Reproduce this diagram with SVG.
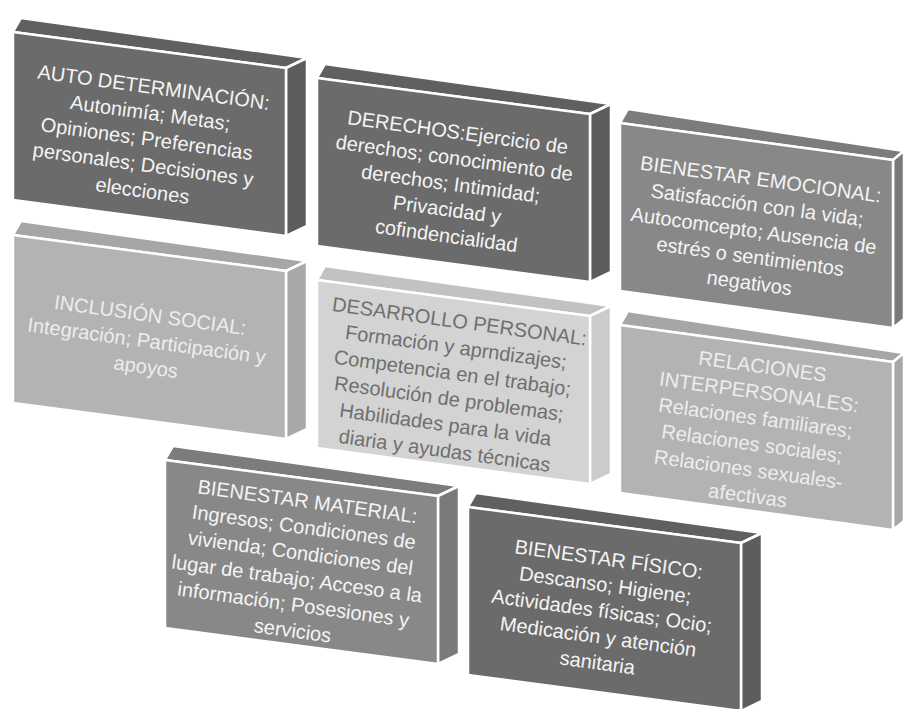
<svg xmlns="http://www.w3.org/2000/svg" width="904" height="709" viewBox="0 0 904 709">
<style>
  .box polygon { stroke: #ffffff; stroke-width: 2.5; stroke-linejoin: round; }
  .t { font-family: "Liberation Sans", Arial, sans-serif; font-size: 20px; text-anchor: middle; fill: #f4f4f4; }
  .dark .f { fill: #6b6b6b; } .dark .tp { fill: #606060; } .dark .s { fill: #5d5d5d; }
  .mid .f { fill: #888888; } .mid .tp { fill: #7c7c7c; } .mid .s { fill: #7a7a7a; }
  .light .f { fill: #b3b3b3; } .light .tp { fill: #a6a6a6; } .light .s { fill: #a8a8a8; }
  .pale .f { fill: #d3d3d3; } .pale .tp { fill: #c2c2c2; } .pale .s { fill: #cbcbcb; }
  .pale .t { fill: #6f6f6f; }
  .light .t { fill: #ededed; }
</style>
<rect width="904" height="709" fill="#ffffff"/>
<g id="connectors"></g>

<g id="auto-determinacion" class="box dark" transform="translate(13,32)">
  <polygon class="tp" points="0,0 8,-14 294,26 273,36"/>
  <polygon class="s" points="273,36 294,26 294,194 273,204"/>
  <polygon class="f" points="0,0 273,36 273,204 0,168"/>
  <text class="t" transform="translate(136.5,107) rotate(7.8)">
    <tspan x="0" y="-45">AUTO DETERMINACIÓN:</tspan>
    <tspan x="0" y="-19">Autonimía; Metas;</tspan>
    <tspan x="0" y="7">Opiniones; Preferencias</tspan>
    <tspan x="0" y="33">personales; Decisiones y</tspan>
    <tspan x="0" y="59">elecciones</tspan>
  </text>
</g>

<g id="derechos" class="box dark" transform="translate(317,78)">
  <polygon class="tp" points="0,0 8,-14 294,26 273,36"/>
  <polygon class="s" points="273,36 294,26 294,194 273,204"/>
  <polygon class="f" points="0,0 273,36 273,204 0,168"/>
  <text class="t" transform="translate(136.5,106) rotate(7.8)">
    <tspan x="0" y="-45">DERECHOS:Ejercicio de</tspan>
    <tspan x="0" y="-19">derechos; conocimiento de</tspan>
    <tspan x="0" y="7">derechos; Intimidad;</tspan>
    <tspan x="0" y="33">Privacidad y</tspan>
    <tspan x="0" y="59">cofindencialidad</tspan>
  </text>
</g>

<g id="bienestar-emocional" class="box mid" transform="translate(620,123)">
  <polygon class="tp" points="0,0 8,-14 284,28 273,37"/>
  <polygon class="s" points="273,37 284,28 284,196 273,205"/>
  <polygon class="f" points="0,0 273,37 273,205 0,168"/>
  <text class="t" transform="translate(136.5,108) rotate(7.8)">
    <tspan x="0" y="-45">BIENESTAR EMOCIONAL:</tspan>
    <tspan x="0" y="-19">Satisfacción con la vida;</tspan>
    <tspan x="0" y="7">Autocomcepto; Ausencia de</tspan>
    <tspan x="0" y="33">estrés o sentimientos</tspan>
    <tspan x="0" y="59">negativos</tspan>
  </text>
</g>

<g id="inclusion-social" class="box light" transform="translate(13,235)">
  <polygon class="tp" points="0,0 8,-14 294,26 273,36"/>
  <polygon class="s" points="273,36 294,26 294,194 273,204"/>
  <polygon class="f" points="0,0 273,36 273,204 0,168"/>
  <text class="t" transform="translate(136.5,106) rotate(7.8)">
    <tspan x="0" y="-19">INCLUSIÓN SOCIAL:</tspan>
    <tspan x="0" y="7">Integración; Participación y</tspan>
    <tspan x="0" y="33">apoyos</tspan>
  </text>
</g>

<g id="desarrollo-personal" class="box pale" transform="translate(317,280)">
  <polygon class="tp" points="0,0 8,-14 294,26 273,36"/>
  <polygon class="s" points="273,36 294,26 294,194 273,204"/>
  <polygon class="f" points="0,0 273,36 273,204 0,168"/>
  <text class="t" transform="translate(136.5,106) rotate(7.8)">
    <tspan x="0" y="-58">DESARROLLO PERSONAL:</tspan>
    <tspan x="0" y="-32">Formación y aprndizajes;</tspan>
    <tspan x="0" y="-6">Competencia en el trabajo;</tspan>
    <tspan x="0" y="20">Resolución de problemas;</tspan>
    <tspan x="0" y="46">Habilidades para la vida</tspan>
    <tspan x="0" y="72">diaria y ayudas técnicas</tspan>
  </text>
</g>

<g id="relaciones-interpersonales" class="box light" transform="translate(620,325)">
  <polygon class="tp" points="0,0 8,-14 284,28 273,37"/>
  <polygon class="s" points="273,37 284,28 284,196 273,205"/>
  <polygon class="f" points="0,0 273,37 273,205 0,168"/>
  <text class="t" transform="translate(136.5,106) rotate(7.8)">
    <tspan x="0" y="-58">RELACIONES</tspan>
    <tspan x="0" y="-32">INTERPERSONALES:</tspan>
    <tspan x="0" y="-6">Relaciones familiares;</tspan>
    <tspan x="0" y="20">Relaciones sociales;</tspan>
    <tspan x="0" y="46">Relaciones sexuales-</tspan>
    <tspan x="0" y="72">afectivas</tspan>
  </text>
</g>

<g id="bienestar-material" class="box mid" transform="translate(165,460)">
  <polygon class="tp" points="0,0 8,-14 294,26 273,36"/>
  <polygon class="s" points="273,36 294,26 294,194 273,204"/>
  <polygon class="f" points="0,0 273,36 273,204 0,168"/>
  <text class="t" transform="translate(136.5,106) rotate(7.8)">
    <tspan x="0" y="-58">BIENESTAR MATERIAL:</tspan>
    <tspan x="0" y="-32">Ingresos; Condiciones de</tspan>
    <tspan x="0" y="-6">vivienda; Condiciones del</tspan>
    <tspan x="0" y="20">lugar de trabajo; Acceso a la</tspan>
    <tspan x="0" y="46">información; Posesiones y</tspan>
    <tspan x="0" y="72">servicios</tspan>
  </text>
</g>

<g id="bienestar-fisico" class="box dark" transform="translate(468,507)">
  <polygon class="tp" points="0,0 8,-14 294,26 273,36"/>
  <polygon class="s" points="273,36 294,26 294,194 273,204"/>
  <polygon class="f" points="0,0 273,36 273,204 0,168"/>
  <text class="t" transform="translate(136.5,104) rotate(7.8)">
    <tspan x="0" y="-45">BIENESTAR FÍSICO:</tspan>
    <tspan x="0" y="-19">Descanso; Higiene;</tspan>
    <tspan x="0" y="7">Actividades físicas; Ocio;</tspan>
    <tspan x="0" y="33">Medicación y atención</tspan>
    <tspan x="0" y="59">sanitaria</tspan>
  </text>
</g>
</svg>
